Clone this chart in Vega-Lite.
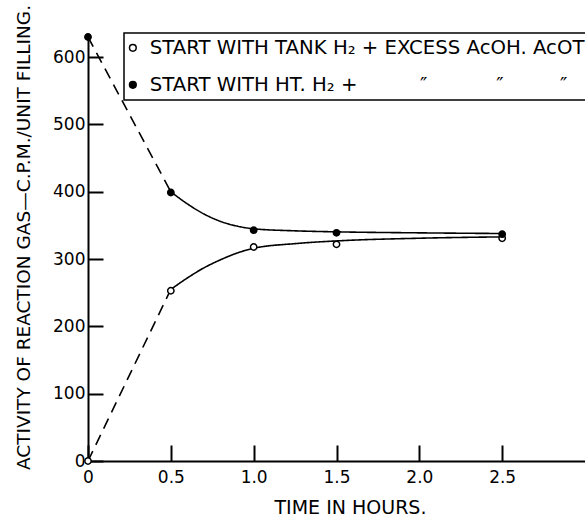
{
  "$schema": "https://vega.github.io/schema/vega-lite/v6.json",
  "autosize": "none",
  "width": 497,
  "height": 424,
  "padding": {"left": 88, "top": 37, "right": 0, "bottom": 56},
  "background": "white",
  "config": {
    "view": {"stroke": null},
    "font": "DejaVu Sans",
    "legend": {"strokeWidth": 1.5},
    "axis": {
      "grid": false,
      "domainColor": "black",
      "domainWidth": 2,
      "tickColor": "black",
      "tickWidth": 2,
      "labelColor": "black",
      "titleColor": "black",
      "labelFont": "DejaVu Sans",
      "titleFont": "DejaVu Sans",
      "titleFontWeight": "normal",
      "labelFontSize": 17,
      "titleFontSize": 19
    }
  },
  "datasets": {
    "curves": [
      {"series": "open", "style": "dash", "t": 0, "v": 0},
      {"series": "open", "style": "dash", "t": 0.5, "v": 255},
      {"series": "open", "style": "solid", "t": 0.5, "v": 255},
      {"series": "open", "style": "solid", "t": 0.6, "v": 272},
      {"series": "open", "style": "solid", "t": 0.7, "v": 287},
      {"series": "open", "style": "solid", "t": 0.8, "v": 299},
      {"series": "open", "style": "solid", "t": 0.9, "v": 309},
      {"series": "open", "style": "solid", "t": 1.0, "v": 316},
      {"series": "open", "style": "solid", "t": 1.25, "v": 323},
      {"series": "open", "style": "solid", "t": 1.5, "v": 327},
      {"series": "open", "style": "solid", "t": 2.0, "v": 331},
      {"series": "open", "style": "solid", "t": 2.5, "v": 333},
      {"series": "filled", "style": "dash", "t": 0, "v": 630},
      {"series": "filled", "style": "dash", "t": 0.5, "v": 400},
      {"series": "filled", "style": "solid", "t": 0.5, "v": 400},
      {"series": "filled", "style": "solid", "t": 0.6, "v": 382},
      {"series": "filled", "style": "solid", "t": 0.7, "v": 367},
      {"series": "filled", "style": "solid", "t": 0.8, "v": 356},
      {"series": "filled", "style": "solid", "t": 0.9, "v": 349},
      {"series": "filled", "style": "solid", "t": 1.0, "v": 345},
      {"series": "filled", "style": "solid", "t": 1.25, "v": 342},
      {"series": "filled", "style": "solid", "t": 1.5, "v": 340.5},
      {"series": "filled", "style": "solid", "t": 2.0, "v": 339},
      {"series": "filled", "style": "solid", "t": 2.5, "v": 338}
    ],
    "points": [
      {"series": "open", "t": 0, "v": 0},
      {"series": "open", "t": 0.5, "v": 253},
      {"series": "open", "t": 1.0, "v": 318},
      {"series": "open", "t": 1.5, "v": 322},
      {"series": "open", "t": 2.5, "v": 331},
      {"series": "filled", "t": 0, "v": 630},
      {"series": "filled", "t": 0.5, "v": 399},
      {"series": "filled", "t": 1.0, "v": 343},
      {"series": "filled", "t": 1.5, "v": 339},
      {"series": "filled", "t": 2.5, "v": 337}
    ]
  },
  "layer": [
    {
      "data": {"name": "curves"},
      "mark": {"type": "line", "color": "black", "strokeWidth": 1.6, "interpolate": "monotone"},
      "encoding": {
        "x": {"field": "t", "type": "quantitative"},
        "y": {"field": "v", "type": "quantitative"},
        "detail": [{"field": "series"}, {"field": "style"}],
        "strokeDash": {
          "field": "style",
          "type": "nominal",
          "scale": {"domain": ["dash", "solid"], "range": [[11, 7], [1, 0]]},
          "legend": null
        }
      }
    },
    {
      "data": {"name": "points"},
      "mark": {"type": "point", "filled": true, "stroke": "black", "strokeWidth": 1.5, "size": 40, "opacity": 1},
      "encoding": {
        "x": {
          "field": "t",
          "type": "quantitative",
          "scale": {"domain": [0, 3], "nice": false},
          "axis": {
            "title": "TIME IN HOURS.",
            "values": [0, 0.5, 1, 1.5, 2, 2.5],
            "labelExpr": "datum.value == 0 ? '0' : format(datum.value, '.1f')",
            "tickSize": -16,
            "labelPadding": 24,
            "titlePadding": 13,
            "titleX": 262,
            "labelFlush": false
          }
        },
        "y": {
          "field": "v",
          "type": "quantitative",
          "scale": {"domain": [0, 630], "nice": false},
          "axis": {
            "title": "ACTIVITY OF REACTION GAS—C.P.M./UNIT FILLING.",
            "values": [0, 100, 200, 300, 400, 500, 600],
            "tickSize": -15,
            "labelPadding": 18,
            "titleX": -55,
            "titleY": 200,
            "titleFontSize": 18.5,
            "labelFlush": false
          }
        },
        "fill": {
          "field": "series",
          "type": "nominal",
          "scale": {"domain": ["open", "filled"], "range": ["white", "black"]},
          "legend": {
            "title": null,
            "orient": "none",
            "legendX": 36,
            "legendY": -4,
            "padding": 5,
            "strokeColor": "black",
            "fillColor": "white",
            "labelFont": "DejaVu Sans",
            "labelFontSize": 19.7,
            "labelColor": "black",
            "labelLimit": 0,
            "labelOffset": 7,
            "symbolOffset": -6,
            "rowPadding": 16,
            "symbolType": "circle",
            "symbolSize": 45,
            "symbolStrokeColor": "black",
            "symbolStrokeWidth": 1.5,
            "labelExpr": "datum.value == 'open' ? 'START WITH TANK H₂ + EXCESS AcOH. AcOT' : 'START WITH HT. H₂ +\u00a0\u00a0\u00a0\u00a0\u00a0\u00a0\u00a0\u00a0\u00a0\u00a0″\u00a0\u00a0\u00a0\u00a0\u00a0\u00a0\u00a0\u00a0\u00a0\u00a0\u00a0″\u00a0\u00a0\u00a0\u00a0\u00a0\u00a0\u00a0\u00a0\u00a0″'"
          }
        }
      }
    }
  ]
}
